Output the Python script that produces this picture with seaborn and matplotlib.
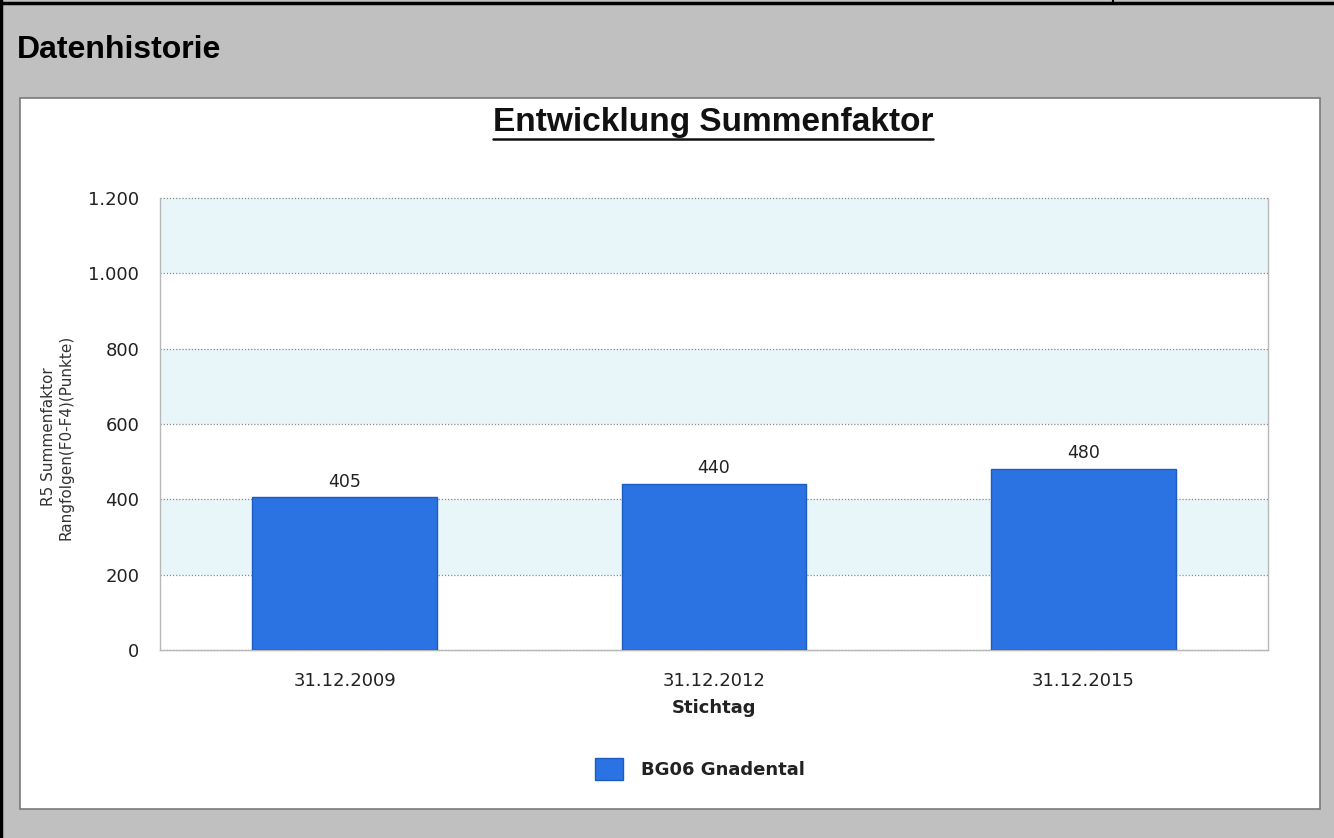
import matplotlib
matplotlib.use("Agg")
import matplotlib.pyplot as plt
import seaborn as sns
import pandas as pd
from matplotlib.patches import Rectangle
from matplotlib.lines import Line2D
from matplotlib.ticker import FuncFormatter

# data
stichtage = ["31.12.2009", "31.12.2012", "31.12.2015"]
summenfaktor = [405, 440, 480]
serie = "BG06 Gnadental"
y_ticks = [0, 200, 400, 600, 800, 1000, 1200]

W, H = 1334, 838
bar_blue = "#2b72e2"
band_blue = "#e8f6fa"

sns.set_style("white")
plt.rcParams["font.family"] = ["DejaVu Sans"]

fig = plt.figure(figsize=(W / 100, H / 100), dpi=100)
fig.patch.set_facecolor("#c0c0c0")


def fx(px):
    return px / W


def fy(py):
    return 1 - py / H


# outer frame lines (top and left)
fig.add_artist(Line2D([0, 1], [fy(3), fy(3)], color="black", lw=2.5))
fig.add_artist(Line2D([fx(1), fx(1)], [0, 1], color="black", lw=2.5))
fig.add_artist(Line2D([fx(1113), fx(1113)], [fy(0), fy(3)], color="black", lw=1.5))

fig.text(fx(17), fy(50), "Datenhistorie", fontsize=23, fontweight="bold",
         family="Liberation Sans", ha="left", va="center", color="black")

# white chart panel
fig.add_artist(Rectangle((fx(20), fy(809)), fx(1320) - fx(20), fy(98) - fy(809),
                         transform=fig.transFigure, facecolor="white",
                         edgecolor="#7a7a7a", lw=1.2, zorder=0))

ax = fig.add_axes([fx(160), fy(650), fx(1268) - fx(160), fy(198) - fy(650)])
ax.set_facecolor("white")

df = pd.DataFrame({"Stichtag": stichtage, "Wert": summenfaktor})

# alternating bands
for i in range(len(y_ticks) - 1):
    if i % 2 == 1:
        ax.axhspan(y_ticks[i], y_ticks[i + 1], color=band_blue, zorder=0, lw=0)

sns.barplot(data=df, x="Stichtag", y="Wert", color=bar_blue, width=0.5,
            saturation=1, edgecolor="#1d5cc0", linewidth=1, label=serie,
            ax=ax, zorder=3)

for i, v in enumerate(summenfaktor):
    ax.annotate(str(v), (i, v), xytext=(0, 5), textcoords="offset points",
                ha="center", va="bottom", fontsize=12.5, color="#222222")

ax.set_xlim(-0.5, 2.5)
ax.set_ylim(0, 1200)
ax.set_yticks(y_ticks)
ax.yaxis.set_major_formatter(FuncFormatter(lambda v, p: f"{int(v):,}".replace(",", ".")))
ax.yaxis.grid(True, linestyle=(0, (1, 1.5)), color="#8a8a8a", lw=0.9, zorder=1)
ax.set_axisbelow(True)
for line in ax.get_ygridlines():
    line.set_clip_on(False)

ax.tick_params(axis="y", length=12, width=0.8, color="#a0a0a0", labelsize=13,
               pad=3, labelcolor="#222222")
ax.tick_params(axis="x", length=6, width=0.8, color="#a0a0a0", labelsize=13,
               pad=10, labelcolor="#222222")

for s in ["left", "bottom", "right"]:
    ax.spines[s].set_color("#b8b8b8")
    ax.spines[s].set_linewidth(1)
ax.spines["top"].set_visible(False)

ax.set_xlabel("Stichtag", fontsize=13, fontweight="bold", labelpad=6, color="#222222")
ax.set_ylabel("")
fig.text(fx(57), fy(437), "R5 Summenfaktor\nRangfolgen(F0-F4)(Punkte)", rotation=90,
         ha="center", va="center", fontsize=11, color="#333333",
         multialignment="center", linespacing=1.2)

# title with underline
title = fig.text(fx(713), fy(122), "Entwicklung Summenfaktor", fontsize=24,
                 fontweight="bold", family="Liberation Sans", ha="center",
                 va="center", color="#111111")
fig.canvas.draw()
bb = title.get_window_extent().transformed(fig.transFigure.inverted())
fig.add_artist(Line2D([bb.x0, bb.x1], [fy(139), fy(139)], color="#111111", lw=1.8))

leg = ax.legend(loc="center", bbox_to_anchor=(fx(700), fy(769)),
                bbox_transform=fig.transFigure, frameon=False,
                prop={"size": 13, "weight": "bold"}, handlelength=1.55,
                handleheight=1.55, handletextpad=1.0)
for t in leg.get_texts():
    t.set_color("#222222")

fig.savefig("out.png", dpi=100, facecolor=fig.get_facecolor())
